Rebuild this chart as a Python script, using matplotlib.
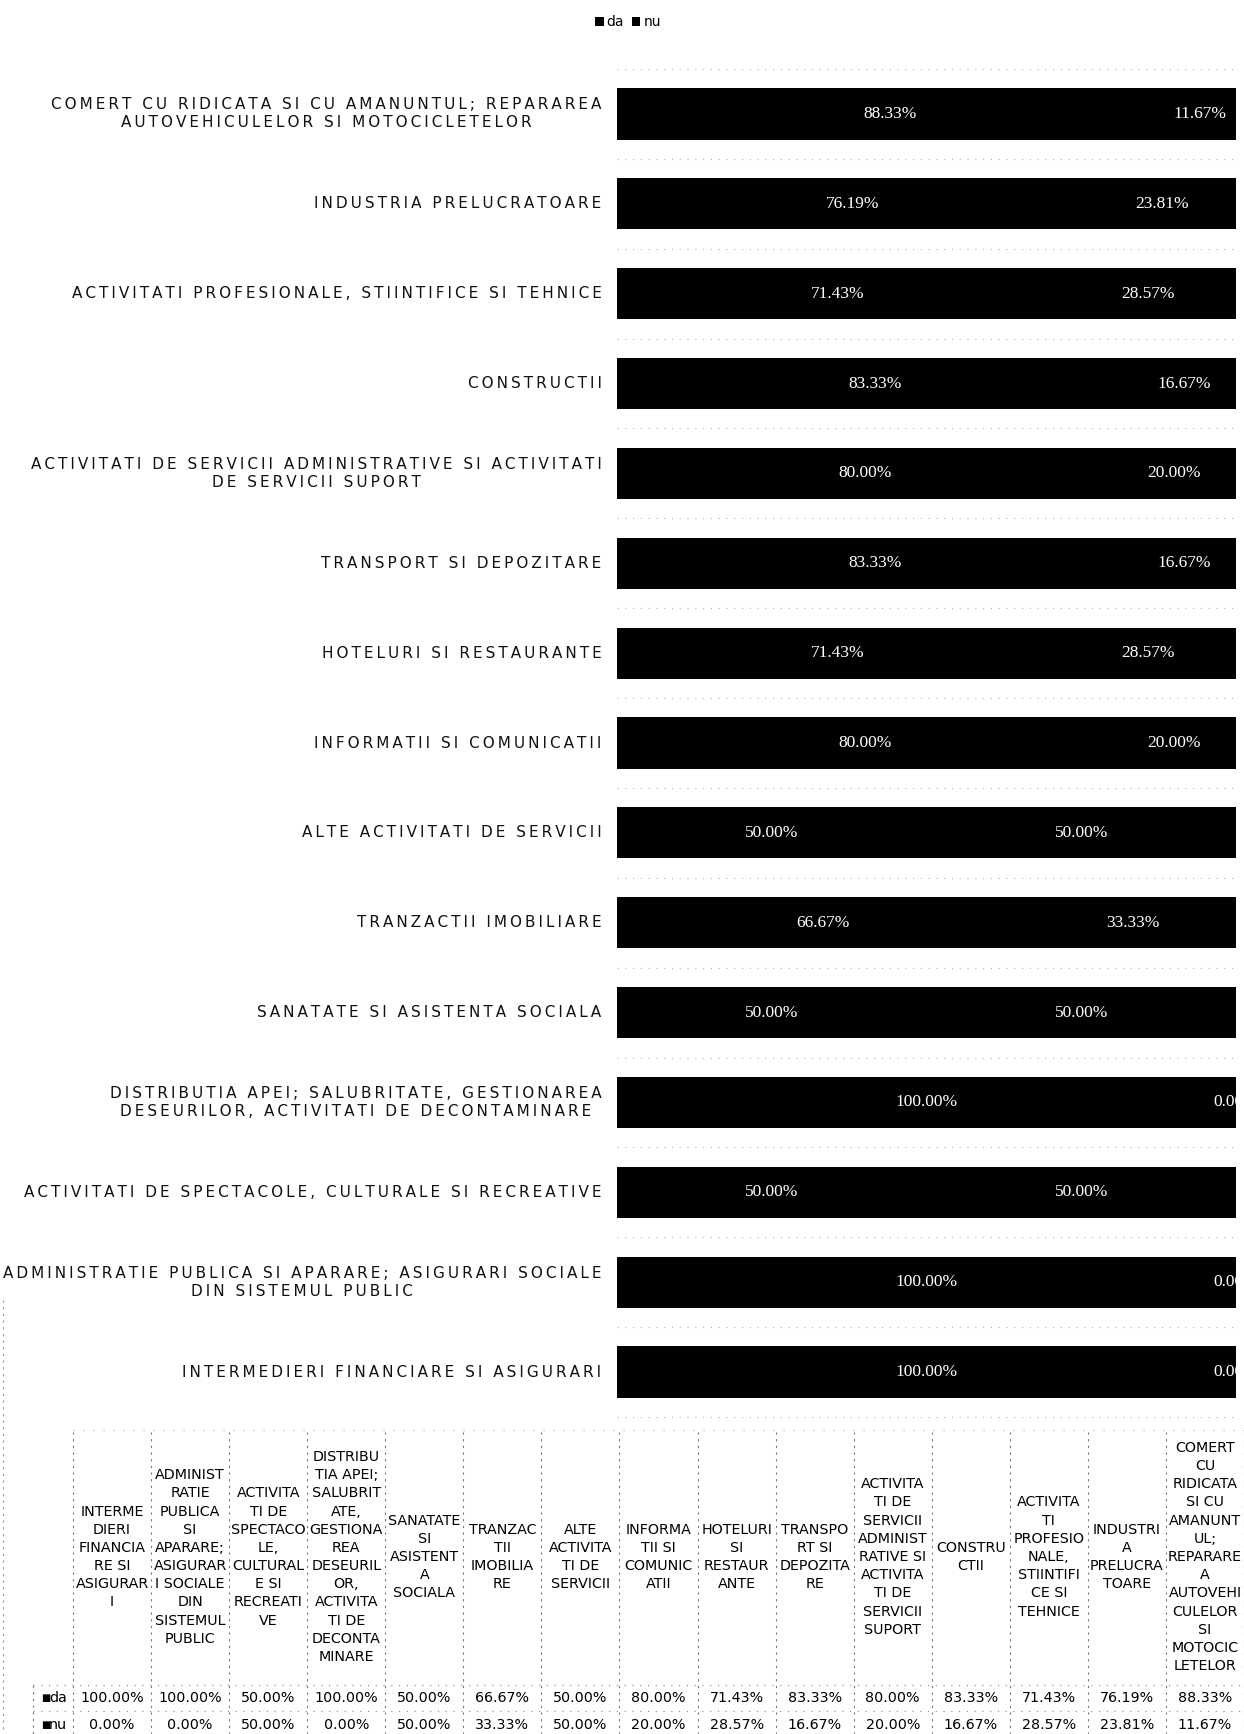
import matplotlib
matplotlib.use("Agg")
import matplotlib.pyplot as plt
from matplotlib.patches import Patch

# ---------------- data (table order; bar chart bottom -> top) ----------------
categories = [
    "INTERMEDIERI FINANCIARE SI ASIGURARI",
    "ADMINISTRATIE PUBLICA SI APARARE; ASIGURARI SOCIALE\nDIN SISTEMUL PUBLIC",
    "ACTIVITATI DE SPECTACOLE, CULTURALE SI RECREATIVE",
    "DISTRIBUTIA APEI; SALUBRITATE, GESTIONAREA\nDESEURILOR, ACTIVITATI DE DECONTAMINARE",
    "SANATATE SI ASISTENTA SOCIALA",
    "TRANZACTII IMOBILIARE",
    "ALTE ACTIVITATI DE SERVICII",
    "INFORMATII SI COMUNICATII",
    "HOTELURI SI RESTAURANTE",
    "TRANSPORT SI DEPOZITARE",
    "ACTIVITATI DE SERVICII ADMINISTRATIVE SI ACTIVITATI\nDE SERVICII SUPORT",
    "CONSTRUCTII",
    "ACTIVITATI PROFESIONALE, STIINTIFICE SI TEHNICE",
    "INDUSTRIA PRELUCRATOARE",
    "COMERT CU RIDICATA SI CU AMANUNTUL; REPARAREA\nAUTOVEHICULELOR SI MOTOCICLETELOR",
]
table_headers = [
    "INTERME\nDIERI\nFINANCIA\nRE SI\nASIGURAR\nI",
    "ADMINIST\nRATIE\nPUBLICA\nSI\nAPARARE;\nASIGURAR\nI SOCIALE\nDIN\nSISTEMUL\nPUBLIC",
    "ACTIVITA\nTI DE\nSPECTACO\nLE,\nCULTURAL\nE SI\nRECREATI\nVE",
    "DISTRIBU\nTIA APEI;\nSALUBRIT\nATE,\nGESTIONA\nREA\nDESEURIL\nOR,\nACTIVITA\nTI DE\nDECONTA\nMINARE",
    "SANATATE\nSI\nASISTENT\nA\nSOCIALA",
    "TRANZAC\nTII\nIMOBILIA\nRE",
    "ALTE\nACTIVITA\nTI DE\nSERVICII",
    "INFORMA\nTII SI\nCOMUNIC\nATII",
    "HOTELURI\nSI\nRESTAUR\nANTE",
    "TRANSPO\nRT SI\nDEPOZITA\nRE",
    "ACTIVITA\nTI DE\nSERVICII\nADMINIST\nRATIVE SI\nACTIVITA\nTI DE\nSERVICII\nSUPORT",
    "CONSTRU\nCTII",
    "ACTIVITA\nTI\nPROFESIO\nNALE,\nSTIINTIFI\nCE SI\nTEHNICE",
    "INDUSTRI\nA\nPRELUCRA\nTOARE",
    "COMERT\nCU\nRIDICATA\nSI CU\nAMANUNT\nUL;\nREPARARE\nA\nAUTOVEHI\nCULELOR\nSI\nMOTOCIC\nLETELOR",
]
da = [100.00, 100.00, 50.00, 100.00, 50.00, 66.67, 50.00, 80.00, 71.43, 83.33, 80.00, 83.33, 71.43, 76.19, 88.33]
nu = [0.00, 0.00, 50.00, 0.00, 50.00, 33.33, 50.00, 20.00, 28.57, 16.67, 20.00, 16.67, 28.57, 23.81, 11.67]
series_names = ["da", "nu"]

# ---------------- figure ----------------
W, H = 1244, 1734
fig = plt.figure(figsize=(W / 100, H / 100), dpi=100)
fig.patch.set_facecolor("white")

# table / overlay axes in pixel coordinates (layout only)
tax = fig.add_axes([0, 0, 1, 1])
tax.set_xlim(0, W)
tax.set_ylim(H, 0)
tax.axis("off")

# bar axes
ax = fig.add_axes([617 / W, 1 - 1417 / H, (1236 - 617) / W, (1417 - 69) / H])
n = len(categories)
ypos = list(range(n))
da_f = [v / 100 for v in da]
nu_f = [v / 100 for v in nu]
ax.barh(ypos, da_f, height=0.57, color="black", edgecolor="none")
ax.barh(ypos, nu_f, left=da_f, height=0.57, color="black", edgecolor="none")
ax.set_xlim(0, 1)
ax.set_ylim(-0.5, n - 0.5)
ax.axis("off")

for i in range(n):
    ax.text(da_f[i] / 2, i, f"{da[i]:.2f}%", color="white", ha="center", va="center",
            fontsize=12.5, family="Liberation Serif", clip_on=False)
    ax.text(da_f[i] + nu_f[i] / 2, i, f"{nu[i]:.2f}%", color="white", ha="center", va="center",
            fontsize=12.5, family="Liberation Serif", clip_on=False)

# faint dotted separators between bars
for k in range(-1, n):
    ax.plot([0, 1], [k + 0.5, k + 0.5], color="#b0b0b0", lw=0.8,
            linestyle=(0, (1, 6)), clip_on=False)


def spaced(s):
    return "\n".join("\u2009".join(line) for line in s.split("\n"))


ytr = ax.get_yaxis_transform()
for i, lab in enumerate(categories):
    ax.text(-0.025, i, spaced(lab), transform=ytr, ha="right", va="center",
            multialignment="center", fontsize=11, color="#111111",
            linespacing=1.25, family="DejaVu Sans", clip_on=False)

# legend
handles = [Patch(facecolor="black", edgecolor="none", label=s) for s in series_names]
fig.legend(handles=handles, loc="center", bbox_to_anchor=(628 / W, 1 - 22 / H),
           ncol=2, frameon=False, fontsize=10, handlelength=0.6, handleheight=0.6,
           handletextpad=0.2, columnspacing=0.6)

# ---------------- data table ----------------
x0, cw = 73, (W - 73) / n
dot = dict(color="#777777", lw=0.8, linestyle=(0, (2, 4)))
for k in range(n + 1):
    tax.plot([x0 + k * cw, x0 + k * cw], [1432, H], **dot)
tax.plot([33, 33], [1685, H], **dot)
tax.plot([3, 3], [1300, H], color="#999999", lw=0.8, linestyle=(0, (2, 4)))
tax.plot([x0, W], [1430, 1430], color="#aaaaaa", lw=0.8, linestyle=(0, (1, 8)))
for yy in (1685, 1711):
    tax.plot([33, W], [yy, yy], color="#888888", lw=0.8, linestyle=(0, (1, 6)))

for j in range(n):
    cx = x0 + (j + 0.5) * cw
    tax.text(cx, 1557, table_headers[j], ha="center", va="center", multialignment="center",
             fontsize=10.3, linespacing=1.38, color="black")
    tax.text(cx, 1698, f"{da[j]:.2f}%", ha="center", va="center", fontsize=10.3, color="black")
    tax.text(cx, 1725, f"{nu[j]:.2f}%", ha="center", va="center", fontsize=10.3, color="black")

for row_y, name in zip((1698, 1725), series_names):
    tax.text(41, row_y, "\u25A0", ha="left", va="center", fontsize=7, color="black")
    tax.text(49, row_y, name, ha="left", va="center", fontsize=10.3, color="black")

fig.savefig("out.png", dpi=100, facecolor="white")
